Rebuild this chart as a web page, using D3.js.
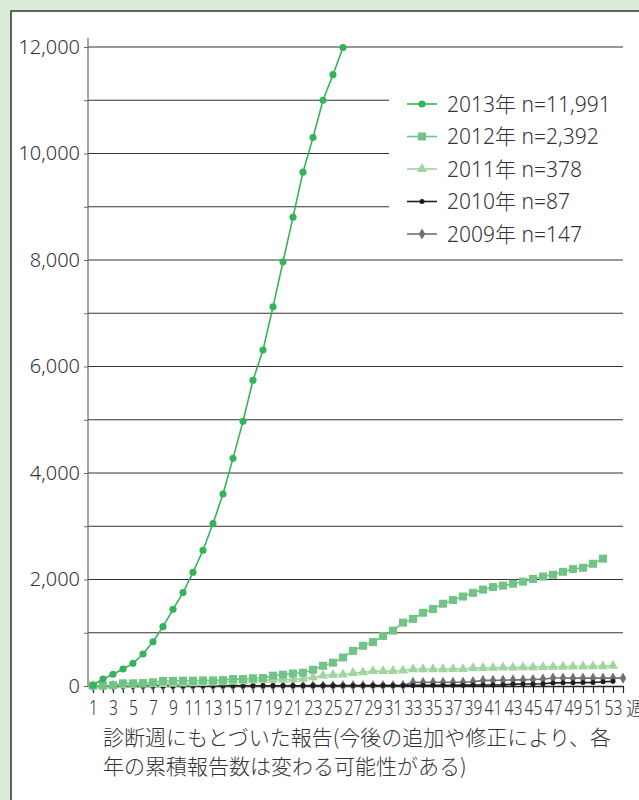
<!DOCTYPE html>
<html>
<head>
<meta charset="utf-8">
<script src="https://cdn.jsdelivr.net/npm/d3@7"></script>
<style>
  body { margin: 0; background: #d9ebd7; }
  svg { display: block; }
  text { font-family: "Noto Sans", "Noto Sans CJK JP", sans-serif; font-weight: 300; fill: #333; }
</style>
</head>
<body>
<svg id="chart" width="639" height="800"></svg>
<script>
// cumulative reports by diagnosis week
const cases2013 = [15, 130, 220, 320, 425, 600, 830, 1115, 1440, 1755, 2135, 2550, 3050, 3605, 4275, 4970,
  5740, 6310, 7120, 7965, 8805, 9650, 10300, 11000, 11480, 11991];
const cases2012 = [5, 5, 15, 50, 50, 55, 70, 95, 95, 100, 100, 105, 105, 110, 130, 130, 145, 150, 195, 213,
  235, 250, 305, 380, 438, 535, 660, 755, 825, 940, 1040, 1190, 1260, 1375, 1445, 1545, 1615, 1680, 1750, 1810,
  1860, 1885, 1920, 1960, 2010, 2055, 2090, 2145, 2195, 2220, 2295, 2392];
const cases2011 = [2, 5, 10, 15, 20, 25, 30, 35, 40, 45, 50, 55, 60, 70, 80, 90, 100, 110, 115, 120,
  125, 135, 165, 195, 210, 215, 245, 255, 280, 280, 282, 290, 315, 315, 315, 315, 316, 318, 335, 338,
  340, 345, 346, 350, 351, 355, 360, 362, 365, 366, 368, 372, 378];
const cases2010 = [0, 0, 0, 0, 1, 1, 1, 2, 2, 2, 3, 3, 3, 4, 4, 4, 5, 5, 5, 6,
  6, 6, 7, 7, 7, 8, 8, 8, 9, 9, 10, 10, 11, 12, 13, 14, 15, 16, 17, 18,
  20, 22, 35, 37, 38, 42, 58, 60, 62, 64, 66, 80, 87];
const cases2009 = [0, 0, 0, 0, 0, 0, 0, 0, 0, 0, 1, 1, 1, 1, 2, 2, 2, 2, 3, 3,
  3, 4, 4, 5, 5, 6, 6, 7, 8, 9, 10, 12, 68, 68, 70, 70, 70, 72, 81, 105,
  105, 108, 115, 115, 122, 130, 150, 150, 147, 147, 147, 147, 148, 147];

const seriesLabels = ["2013年 n=11,991", "2012年 n=2,392", "2011年 n=378", "2010年 n=87", "2009年 n=147"];
const seriesValues = [cases2013, cases2012, cases2011, cases2010, cases2009];
const yTicks = d3.range(0, 12001, 1000);
const weekTicks = d3.range(1, 55);
const captionLines = ["診断週にもとづいた報告(今後の追加や修正により、各", "年の累積報告数は変わる可能性がある)"];

const styles = [
  { color: "#34b45a", symbol: d3.symbolCircle, size: 40 },
  { color: "#72c386", symbol: d3.symbolSquare, size: 64 },
  { color: "#9fd59e", symbol: d3.symbolTriangle, size: 45 },
  { color: "#1e1e1e", symbol: d3.symbolCircle, size: 20 },
  { color: "#707070", symbol: d3.symbolDiamond, size: 36 }
];

const svg = d3.select("#chart");

// white panel
svg.append("rect")
  .attr("x", 11).attr("y", 11)
  .attr("width", 800).attr("height", 900)
  .attr("fill", "#fff").attr("stroke", "#333").attr("stroke-width", 1.5);

const x = d3.scaleLinear().domain([0.5, 54]).range([88, 623]);
const y = d3.scaleLinear().domain([0, 12000]).range([686, 47]);

// grid
svg.append("g").selectAll("line")
  .data(yTicks.filter(d => d > 0))
  .join("line")
  .attr("x1", x(0.5)).attr("x2", x(54))
  .attr("y1", d => y(d)).attr("y2", d => y(d))
  .attr("stroke", "#333").attr("stroke-width", 1);

// y axis
const yAxis = svg.append("g")
  .attr("transform", "translate(" + x(0.5) + ",0)")
  .call(d3.axisLeft(y).tickValues(yTicks).tickSize(4).tickSizeOuter(0).tickPadding(4)
    .tickFormat(d => d % 2000 === 0 ? d3.format(",")(d) : ""));
yAxis.select(".domain").remove();
yAxis.selectAll(".tick line").attr("stroke", "#666");
yAxis.selectAll("text").attr("font-size", 20).attr("font-family", null);
yAxis.append("line")
  .attr("y1", y(12000) - 9).attr("y2", y(0))
  .attr("stroke", "#666").attr("stroke-width", 1.2);

// x axis
const xAxis = svg.append("g")
  .attr("transform", "translate(0," + y(0) + ")")
  .call(d3.axisBottom(x).tickValues(weekTicks).tickSize(7).tickSizeOuter(0).tickPadding(8)
    .tickFormat(d => d % 2 ? d : ""));
xAxis.select(".domain").attr("stroke", "#222").attr("stroke-width", 1.5);
xAxis.selectAll(".tick line").attr("stroke", "#222").attr("stroke-width", 1.2);
xAxis.selectAll("text")
  .attr("font-size", 20).attr("font-family", null)
  .attr("transform", "scale(0.78,1)");
svg.append("text")
  .attr("x", 626).attr("y", 716)
  .attr("font-size", 19)
  .text("週");

// series, oldest drawn first
const line = d3.line().x((d, i) => x(i + 1)).y(d => y(d));
for (let k = seriesValues.length - 1; k >= 0; k--) {
  const st = styles[k];
  const g = svg.append("g");
  g.append("path")
    .datum(seriesValues[k])
    .attr("d", line)
    .attr("fill", "none")
    .attr("stroke", st.color)
    .attr("stroke-width", 1.6);
  g.selectAll("path.pt")
    .data(seriesValues[k])
    .join("path")
    .attr("class", "pt")
    .attr("transform", (d, i) => "translate(" + x(i + 1) + "," + y(d) + ")")
    .attr("d", d3.symbol().type(st.symbol).size(st.size))
    .attr("fill", st.color);
}

// legend
const legend = svg.append("g");
legend.append("rect")
  .attr("x", 389).attr("y", 77)
  .attr("width", 240).attr("height", 168)
  .attr("fill", "#fff");
seriesLabels.forEach((lab, i) => {
  const st = styles[i];
  const ly = 104 + i * 32.5;
  legend.append("line")
    .attr("x1", 407).attr("x2", 437)
    .attr("y1", ly).attr("y2", ly)
    .attr("stroke", st.color).attr("stroke-width", 1.6);
  legend.append("path")
    .attr("transform", "translate(422," + ly + ")")
    .attr("d", d3.symbol().type(st.symbol).size(st.size))
    .attr("fill", st.color);
  legend.append("text")
    .attr("x", 447).attr("y", ly)
    .attr("dy", "0.36em")
    .attr("font-size", 21)
    .text(lab);
});

// caption
svg.append("g").selectAll("text")
  .data(captionLines)
  .join("text")
  .attr("x", 103)
  .attr("y", (d, i) => 745 + i * 29)
  .attr("font-size", 21)
  .style("font-family", "'Noto Sans CJK JP', sans-serif")
  .text(d => d);
</script>
</body>
</html>
